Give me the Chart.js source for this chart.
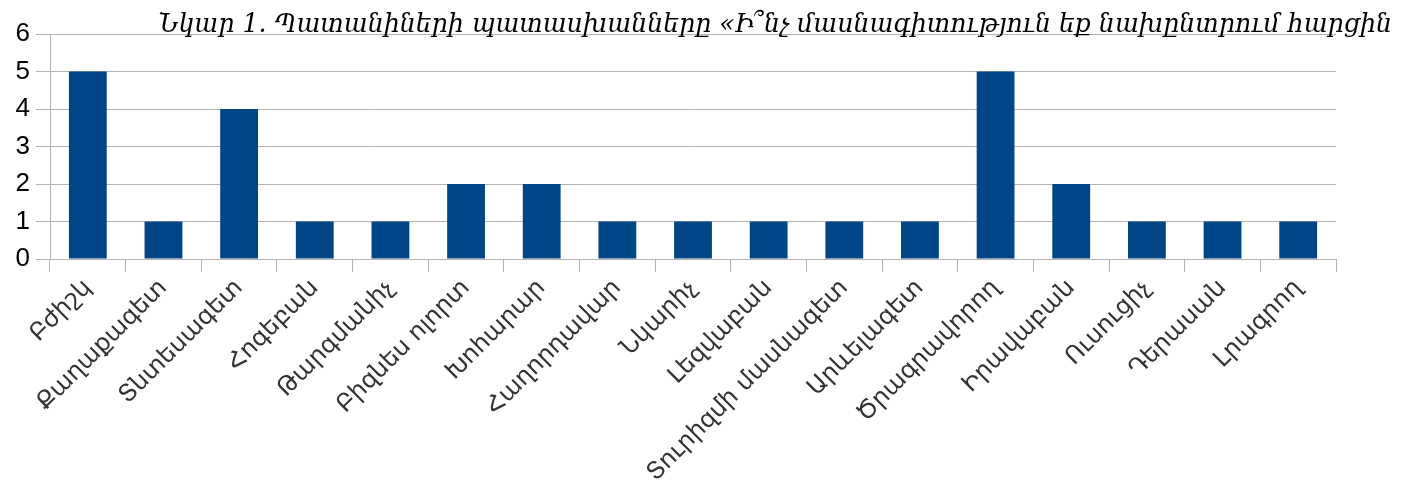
<!DOCTYPE html>
<html>
<head>
<meta charset="utf-8">
<script src="https://cdn.jsdelivr.net/npm/chart.js@4/dist/chart.umd.min.js"></script>
<style>
  html, body { margin: 0; padding: 0; background: #ffffff; }
  #wrap { position: relative; width: 1406px; height: 487px; }
</style>
</head>
<body>
<div id="wrap"><canvas id="c" width="1406" height="487"></canvas></div>
<script>
const categories = [
  "Բժիշկ", "Քաղաքագետ", "Տնտեսագետ", "Հոգեբան", "Թարգմանիչ",
  "Բիզնես ոլորտ", "Խոհարար", "Հաղորդավար", "Նկարիչ", "Լեզվաբան",
  "Տուրիզմի մասնագետ", "Արևելագետ", "Ծրագրավորող", "Իրավաբան",
  "Ուսուցիչ", "Դերասան", "Լրագրող"
];
const values = [5, 1, 4, 1, 1, 2, 2, 1, 1, 1, 1, 1, 5, 2, 1, 1, 1];
const yTicks = [0, 1, 2, 3, 4, 5, 6];
const titleText = "Նկար 1. Պատանիների պատասխանները «Ի՞նչ մասնագիտություն եք նախընտրում հարցին";

const titlePlugin = {
  id: 'titlePlugin',
  afterDraw(chart) {
    const ctx = chart.ctx;
    ctx.save();
    ctx.font = 'italic 25.2px "DejaVu Serif", serif';
    ctx.fillStyle = '#000000';
    ctx.textAlign = 'right';
    ctx.textBaseline = 'alphabetic';
    ctx.fillText(titleText, 1392, 32);
    ctx.restore();
  }
};

new Chart(document.getElementById('c'), {
  type: 'bar',
  data: {
    labels: categories,
    datasets: [{
      data: values,
      backgroundColor: '#004586',
      borderWidth: 0,
      categoryPercentage: 1.0,
      barPercentage: 0.5
    }]
  },
  options: {
    responsive: false,
    animation: false,
    devicePixelRatio: 1,
    layout: { padding: { top: 34, right: 70, left: 0, bottom: 0 } },
    plugins: { legend: { display: false }, tooltip: { enabled: false }, title: { display: false } },
    scales: {
      x: {
        offset: true,
        grid: {
          offset: true,
          drawOnChartArea: true,
          color: (c) => (c.index === categories.length ? '#b3b3b3' : 'rgba(0,0,0,0)'),
          tickColor: '#b3b3b3',
          tickLength: 13,
          lineWidth: 1
        },
        border: { color: '#b3b3b3', width: 1 },
        ticks: {
          autoSkip: false,
          maxRotation: 45,
          minRotation: 45,
          color: '#333333',
          font: { family: '"DejaVu Sans", sans-serif', size: 24 },
          padding: 2
        },
        afterFit(scale) { scale.height = 228; }
      },
      y: {
        min: 0,
        max: 6,
        afterBuildTicks(scale) { scale.ticks = yTicks.map(v => ({ value: v })); },
        grid: {
          color: '#b3b3b3',
          tickColor: '#b3b3b3',
          tickLength: 14,
          lineWidth: 1
        },
        border: { color: '#b3b3b3', width: 1 },
        ticks: {
          color: '#000000',
          font: { family: '"Liberation Sans", Arial, sans-serif', size: 26 },
          padding: 6
        },
        afterFit(scale) { scale.width = 50; }
      }
    }
  },
  plugins: [titlePlugin]
});
</script>
</body>
</html>
